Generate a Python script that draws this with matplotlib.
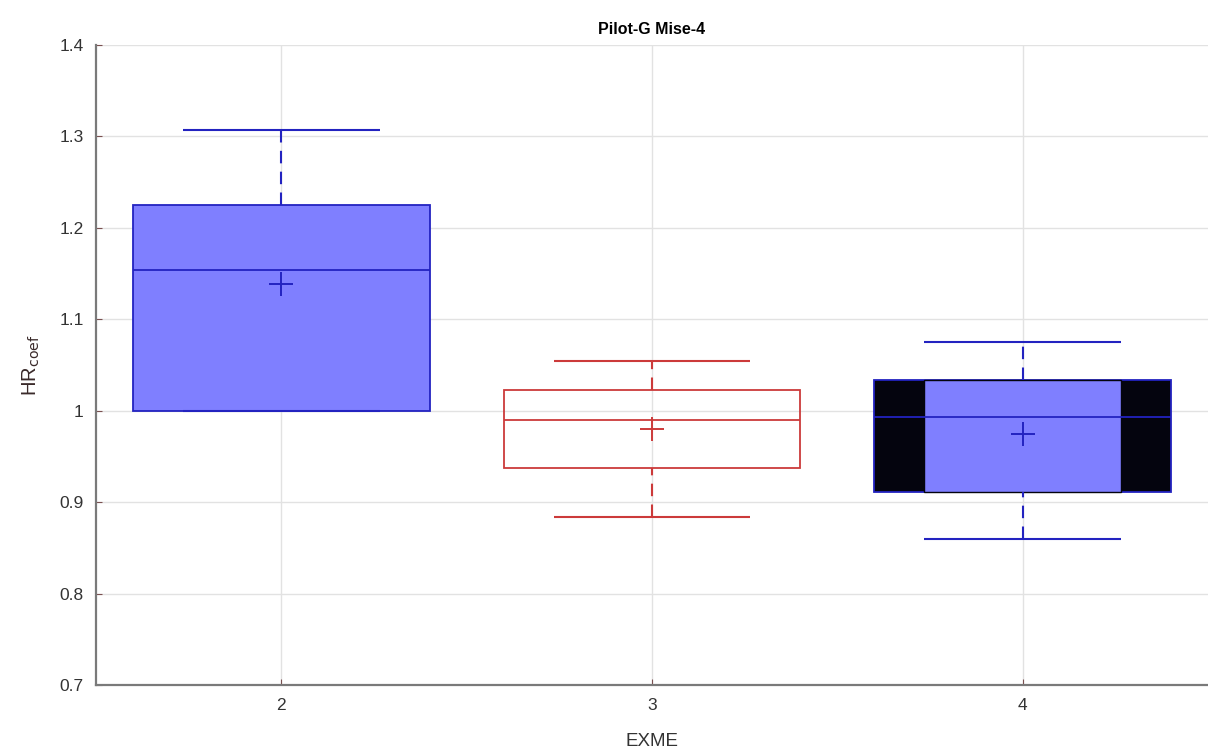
import numpy as np
import matplotlib.pyplot as plt

plt.rcParams['font.family'] = ['Liberation Sans', 'DejaVu Sans']

# group positions and box statistics
groups = [2, 3, 4]
q1 = [1.000, 0.937, 0.911]
q3 = [1.225, 1.023, 1.034]
med = [1.154, 0.990, 0.993]
mean = [1.139, 0.980, 0.975]
whis_lo = [1.000, 0.884, 0.860]
whis_hi = [1.307, 1.054, 1.075]

blue = '#2323c0'
blue_fill = '#7f7fff'
red = '#cc3a3a'
edge_cols = [blue, red, blue]
fill_cols = [blue_fill, 'none', blue_fill]

fig = plt.figure(figsize=(12.08, 7.56), dpi=100)
ax = fig.add_axes([0.0795, 0.0939, 0.9205, 0.8466])

box_w = 0.8
cap_w = 0.53

for i, x in enumerate(groups):
    ec = edge_cols[i]
    # whiskers
    ax.vlines(x, q3[i], whis_hi[i], colors=ec, linestyles=(0, (6, 4)), linewidth=1.5, zorder=3)
    if whis_lo[i] < q1[i]:
        ax.vlines(x, whis_lo[i], q1[i], colors=ec, linestyles=(0, (6, 4)), linewidth=1.5, zorder=3)
    ax.hlines([whis_lo[i], whis_hi[i]], x - cap_w / 2, x + cap_w / 2, colors=ec, linewidth=1.5, zorder=3)
    # box
    if i == 2:
        # outer black box with the inner blue one on top
        ax.bar(x, q3[i] - q1[i], bottom=q1[i], width=box_w, color='#04040e',
               edgecolor=ec, linewidth=1.3, zorder=2)
        ax.bar(x, q3[i] - q1[i], bottom=q1[i], width=cap_w, color=blue_fill,
               edgecolor='#04040e', linewidth=1.0, zorder=2.5)
    else:
        ax.bar(x, q3[i] - q1[i], bottom=q1[i], width=box_w, color=fill_cols[i],
               edgecolor=ec, linewidth=1.3, zorder=2)
    # median
    ax.hlines(med[i], x - box_w / 2, x + box_w / 2, colors=ec, linewidth=1.3, zorder=4)
    # mean
    ax.plot(x, mean[i], marker='+', markersize=17, markeredgewidth=1.4, color=ec, zorder=5)

ax.set_xlim(1.5, 4.5)
ax.set_ylim(0.7, 1.4)
ax.set_xticks(groups)
ax.set_yticks(np.arange(0.7, 1.41, 0.1))
ax.set_yticklabels(['0.7', '0.8', '0.9', '1', '1.1', '1.2', '1.3', '1.4'])
ax.grid(True, color='#e2e2e2', linewidth=1.0, zorder=0)
ax.set_axisbelow(True)

for s in ['top', 'right']:
    ax.spines[s].set_visible(False)
for s in ['left', 'bottom']:
    ax.spines[s].set_color('#7a7a7a')
    ax.spines[s].set_linewidth(1.6)
ax.tick_params(direction='in', length=4, colors='#7a5050', labelcolor='#333333', labelsize=12.5, pad=9)

ax.set_title('Pilot-G Mise-4', fontsize=11.5, fontweight='bold', pad=8)
ax.set_xlabel('EXME', fontsize=13.5, color='#333333', labelpad=15)
ax.set_ylabel(r'HR$_{\mathrm{coef}}$', fontsize=14.5, color='#3a2a2a', labelpad=12)

fig.savefig('out.png', dpi=100)
